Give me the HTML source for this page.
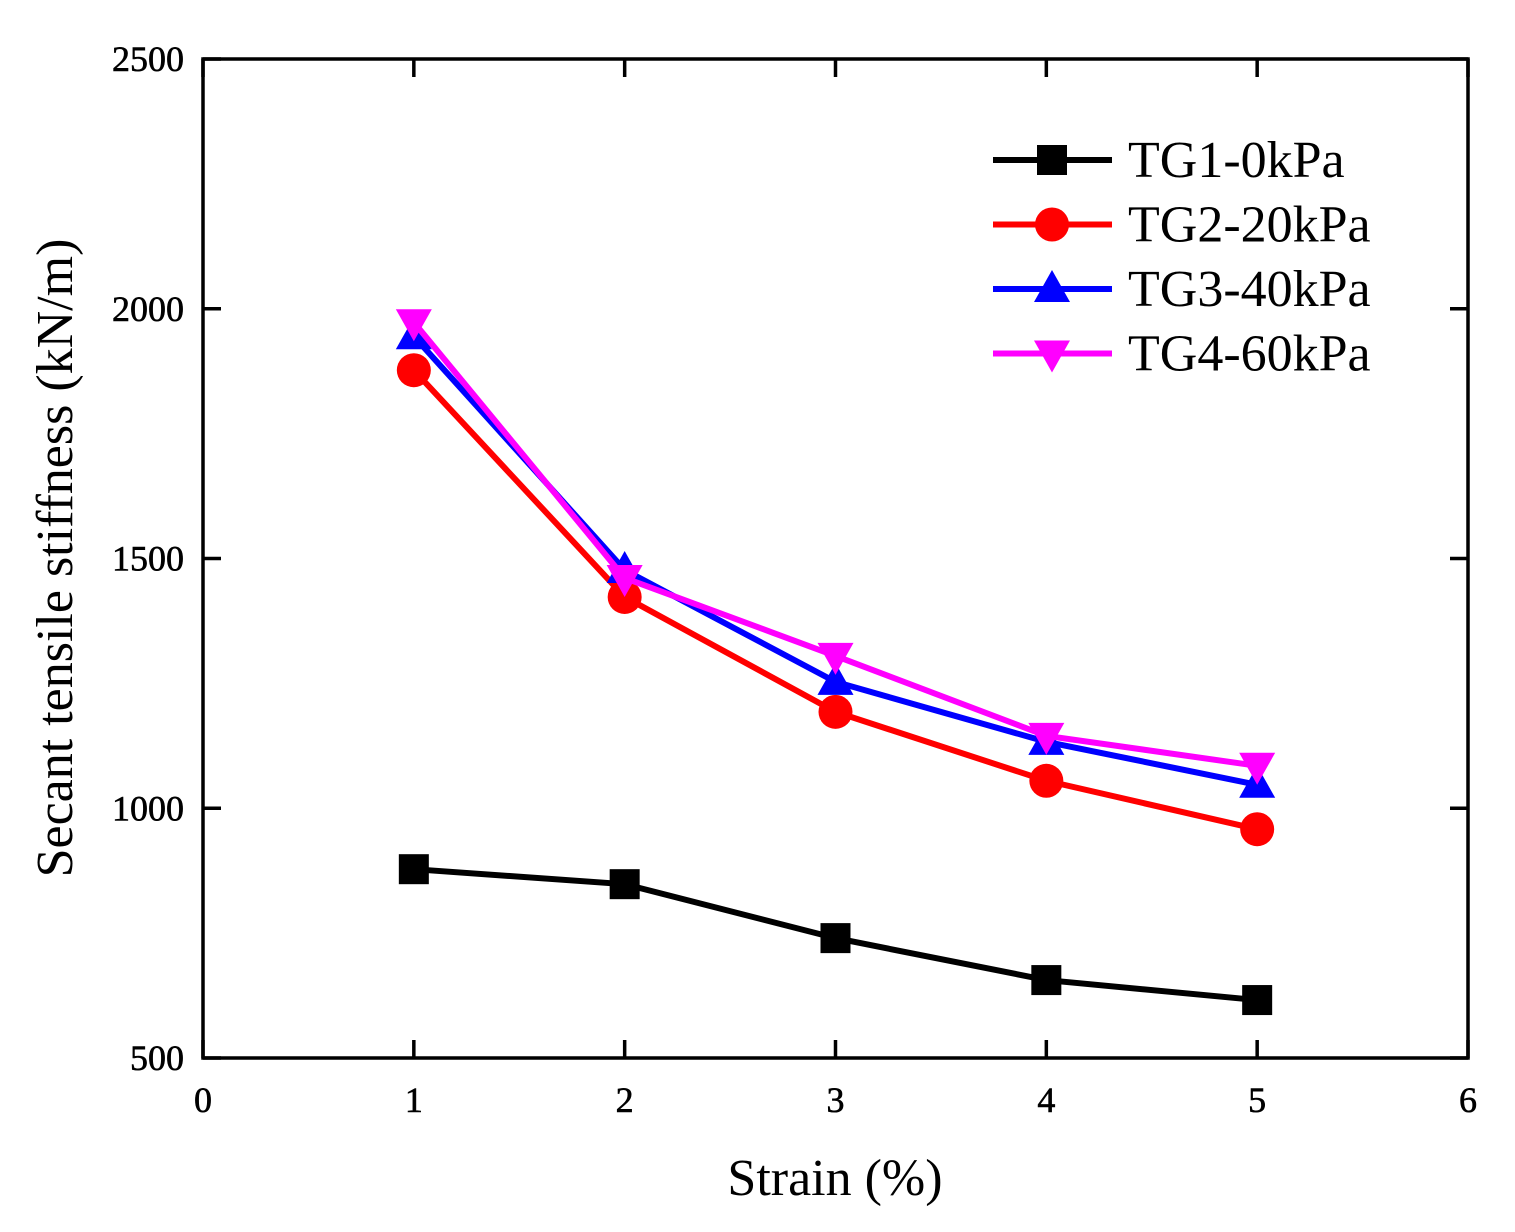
<!DOCTYPE html>
<html><head><meta charset="utf-8"><style>
body{margin:0;background:#fff}
svg text{font-family:"Liberation Serif",serif;fill:#000}
</style></head><body>
<svg width="1515" height="1227">
<g id="axes"></g><g id="series"></g><g id="legend"></g>
</svg>
<script>
const categories=[1,2,3,4,5];
const tg1=[878,848,740,656,616];
const tg2=[1877,1423,1193,1055,958];
const tg3=[1945,1477,1253,1133,1047];
const tg4=[1973,1461,1305,1145,1085];
const xTicks=[0,1,2,3,4,5,6];
const yTicks=[500,1000,1500,2000,2500];
const seriesNames=["TG1-0kPa","TG2-20kPa","TG3-40kPa","TG4-60kPa"];
const L=203,R=1468,T=59,B=1058;
const xs=v=>L+(v-0)/6*(R-L);
const ys=v=>B-(v-500)/2000*(B-T);
const NS="http://www.w3.org/2000/svg";
function mk(tag,attrs,parent){const e=document.createElementNS(NS,tag);for(const k in attrs)e.setAttribute(k,attrs[k]);parent.appendChild(e);return e;}
const ax=document.getElementById('axes');
let fr=mk('rect',{x:L,y:T,width:R-L,height:B-T,fill:'none',stroke:'#000','stroke-width':3.5},ax);


xTicks.forEach(v=>{const x=xs(v);
 mk('line',{x1:x,x2:x,y1:B,y2:B-18,stroke:'#000','stroke-width':3.5},ax);
 mk('line',{x1:x,x2:x,y1:T,y2:T+18,stroke:'#000','stroke-width':3.5},ax);
 const t=mk('text',{x:x,y:B+54,'text-anchor':'middle','font-size':36,stroke:'#000','stroke-width':0.6},ax);t.textContent=v;
 
 });
yTicks.forEach(v=>{const y=ys(v);
 mk('line',{x1:L,x2:L+18,y1:y,y2:y,stroke:'#000','stroke-width':3.5},ax);
 mk('line',{x1:R,x2:R-18,y1:y,y2:y,stroke:'#000','stroke-width':3.5},ax);
 const t=mk('text',{x:L-19,y:y+12,'text-anchor':'end','font-size':36,stroke:'#000','stroke-width':0.6},ax);t.textContent=v;
 
 });
let xt=mk('text',{x:835,y:1195,'text-anchor':'middle','font-size':52},ax);xt.textContent='Strain (%)';


let yt=mk('text',{x:72,y:558,'text-anchor':'middle','font-size':52,transform:'rotate(-90 72 558)'},ax);yt.textContent='Secant tensile stiffness (kN/m)';


function marker(type,x,y,c,p){
 if(type==='sq')return mk('rect',{x:x-15,y:y-15,width:30,height:30,fill:c},p);
 if(type==='ci')return mk('circle',{cx:x,cy:y,r:17,fill:c},p);
 if(type==='up')return mk('polygon',{points:`${x},${y-19} ${x+18},${y+13} ${x-18},${y+13}`,fill:c},p);
 return mk('polygon',{points:`${x},${y+19} ${x+18},${y-13} ${x-18},${y-13}`,fill:c},p);
}
const all=[tg1,tg2,tg3,tg4],cols=['#000','#f00','#00f','#f0f'],mks=['sq','ci','up','dn'];
const sg=document.getElementById('series');
all.forEach((d,i)=>{
 const g=mk('g',{},sg);
 
 
 mk('polyline',{points:d.map((v,j)=>xs(categories[j])+','+ys(v)).join(' '),fill:'none',stroke:cols[i],'stroke-width':6},g);
 d.forEach((v,j)=>{const m=marker(mks[i],xs(categories[j]),ys(v),cols[i],g);
  
  });
});
const lg=document.getElementById('legend');
seriesNames.forEach((n,i)=>{const y=160+i*64.5;
 const g=mk('g',{},lg);
 
 
 mk('line',{x1:993,x2:1112,y1:y,y2:y,stroke:cols[i],'stroke-width':6},g);
 marker(mks[i],1052,y,cols[i],g);
 const t=mk('text',{x:1128,y:y+17,'font-size':52},g);t.textContent=n;});
</script>
</body></html>
